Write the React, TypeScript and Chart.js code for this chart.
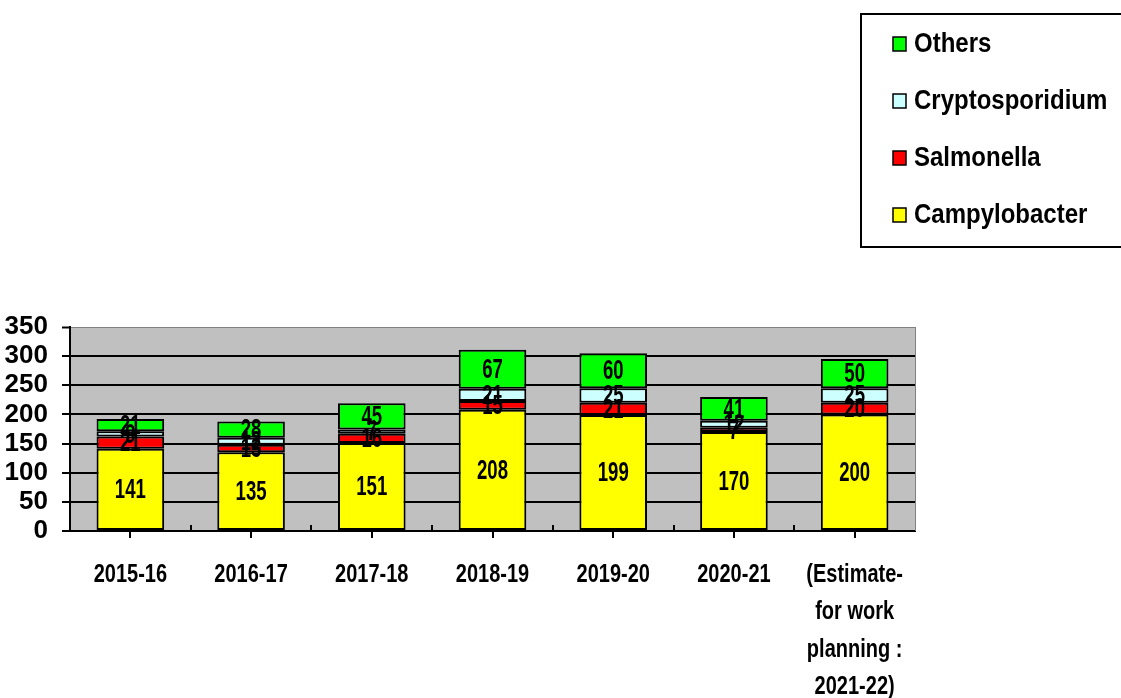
import React, { useEffect, useRef } from 'react';
import { Chart, registerables } from 'chart.js';

Chart.register(...registerables);

const categories: (string | string[])[] = [
  '2015-16',
  '2016-17',
  '2017-18',
  '2018-19',
  '2019-20',
  '2020-21',
  ['(Estimate-', 'for work', 'planning :', '2021-22)'],
];
const campylobacter = [141, 135, 151, 208, 199, 170, 200];
const salmonella = [21, 13, 16, 15, 21, 7, 20];
const cryptosporidium = [9, 12, 7, 21, 25, 12, 25];
const others = [21, 28, 45, 67, 60, 41, 50];
const yTicks = [0, 50, 100, 150, 200, 250, 300, 350];

const SANS = "'Liberation Sans', Arial, sans-serif";

const drawScaled = (ctx: any, text: string, x: number, y: number, sx: number, sy: number) => {
  ctx.save();
  ctx.translate(x, y);
  ctx.scale(sx, sy);
  ctx.fillText(text, 0, 0);
  ctx.restore();
};

const plotBg = {
  id: 'plotBg',
  beforeDraw(chart: any) {
    const { ctx, chartArea: a } = chart;
    ctx.save();
    ctx.fillStyle = '#C0C0C0';
    ctx.fillRect(a.left, a.top, a.right - a.left, a.bottom - a.top);
    ctx.restore();
  },
  afterDraw(chart: any) {
    const { ctx, chartArea: a } = chart;
    const xs = chart.scales.x;
    ctx.save();
    // right border (thin grey)
    ctx.strokeStyle = '#808080';
    ctx.lineWidth = 1;
    ctx.beginPath();
    ctx.moveTo(a.right + 0.5, a.top);
    ctx.lineTo(a.right + 0.5, a.bottom);
    ctx.stroke();
    // inner boundary tick marks
    ctx.strokeStyle = '#000';
    ctx.lineWidth = 2;
    for (let i = 1; i < categories.length; i++) {
      const x = Math.round((xs.getPixelForValue(i - 1) + xs.getPixelForValue(i)) / 2);
      ctx.beginPath();
      ctx.moveTo(x, a.bottom);
      ctx.lineTo(x, a.bottom - 6);
      ctx.stroke();
    }
    // category labels
    ctx.fillStyle = '#000';
    ctx.font = `bold 20px ${SANS}`;
    ctx.textAlign = 'center';
    ctx.textBaseline = 'middle';
    (chart.data.labels as any[]).forEach((lab: any, i: number) => {
      const lines = Array.isArray(lab) ? lab : [lab];
      const x = xs.getPixelForValue(i);
      lines.forEach((ln: string, j: number) => {
        drawScaled(ctx, ln, x, 575 + j * 37.5, 1.0, 1.25);
      });
    });
    ctx.restore();
  },
};

const valueLabels = {
  id: 'valueLabels',
  afterDatasetsDraw(chart: any) {
    const { ctx } = chart;
    ctx.save();
    ctx.fillStyle = '#000';
    ctx.font = `bold 22px ${SANS}`;
    ctx.textAlign = 'center';
    ctx.textBaseline = 'middle';
    chart.data.datasets.forEach((ds: any, di: number) => {
      const meta = chart.getDatasetMeta(di);
      meta.data.forEach((bar: any, i: number) => {
        const v = ds.data[i];
        const cy = (bar.y + bar.base) / 2;
        drawScaled(ctx, String(v), bar.x, cy + 1, 0.845, 1.27);
      });
    });
    ctx.restore();
  },
};

const boxLegend = {
  id: 'boxLegend',
  afterDraw(chart: any) {
    const { ctx } = chart;
    ctx.save();
    ctx.fillStyle = '#fff';
    ctx.fillRect(861, 14, 270, 233);
    ctx.strokeStyle = '#000';
    ctx.lineWidth = 2;
    ctx.strokeRect(861, 14, 270, 233);
    const items = chart.data.datasets.slice().reverse();
    items.forEach((d: any, i: number) => {
      const cy = 44 + i * 57;
      ctx.fillStyle = d.backgroundColor;
      ctx.fillRect(893, cy - 7, 13, 14);
      ctx.strokeStyle = '#000';
      ctx.lineWidth = 1.5;
      ctx.strokeRect(893, cy - 7, 13, 14);
      ctx.fillStyle = '#000';
      ctx.font = `bold 24px ${SANS}`;
      ctx.textAlign = 'left';
      ctx.textBaseline = 'middle';
      drawScaled(ctx, d.label, 914, cy + 1, 1, 1.12);
    });
    ctx.restore();
  },
};

export default function App() {
  const ref = useRef<HTMLCanvasElement | null>(null);
  useEffect(() => {
    if (!ref.current) return;
    const mk = (label: string, data: number[], color: string) => ({
      label,
      data,
      backgroundColor: color,
      borderColor: '#000',
      borderWidth: 2,
      borderSkipped: false,
      categoryPercentage: 1,
      barPercentage: 0.56,
    });
    const chart = new Chart(ref.current, {
      type: 'bar',
      data: {
        labels: categories as any,
        datasets: [
          mk('Campylobacter', campylobacter, '#FFFF00'),
          mk('Salmonella', salmonella, '#FF0000'),
          mk('Cryptosporidium', cryptosporidium, '#CCFFFF'),
          mk('Others', others, '#00FF00'),
        ] as any,
      },
      options: {
        animation: false,
        responsive: true,
        maintainAspectRatio: false,
        layout: { padding: { top: 327, right: 206, left: 0, bottom: 0 } },
        plugins: {
          legend: { display: false },
          tooltip: { enabled: false },
        },
        scales: {
          x: {
            stacked: true,
            afterFit: (s: any) => { s.height = 698 - 531; },
            grid: {
              display: true,
              offset: false,
              drawOnChartArea: false,
              drawTicks: true,
              tickLength: 7,
              color: '#000',
              lineWidth: 2,
            },
            border: { display: true, color: '#000', width: 2 },
            ticks: { display: false, autoSkip: false },
          },
          y: {
            stacked: true,
            min: 0,
            max: 350,
            afterFit: (s: any) => { s.width = 70; },
            afterBuildTicks: (s: any) => { s.ticks = yTicks.map((v) => ({ value: v })); },
            grid: {
              color: (c: any) => (c.tick && c.tick.value === 350 ? '#808080' : '#000'),
              lineWidth: (c: any) => (c.tick && c.tick.value === 350 ? 1 : 2),
              drawTicks: true,
              tickLength: 8,
              tickColor: '#000',
              tickWidth: 2,
            } as any,
            border: { display: true, color: '#000', width: 2 },
            ticks: {
              color: '#000',
              padding: 14,
              autoSkip: false,
              font: { family: SANS, weight: 'bold', size: 26, lineHeight: 1 },
            },
          },
        },
      },
      plugins: [plotBg, valueLabels, boxLegend],
    });
    return () => chart.destroy();
  }, []);
  return (
    <div style={{ position: 'fixed', left: 0, top: 0, width: 1121, height: 698 }}>
      <canvas ref={ref} />
    </div>
  );
}
